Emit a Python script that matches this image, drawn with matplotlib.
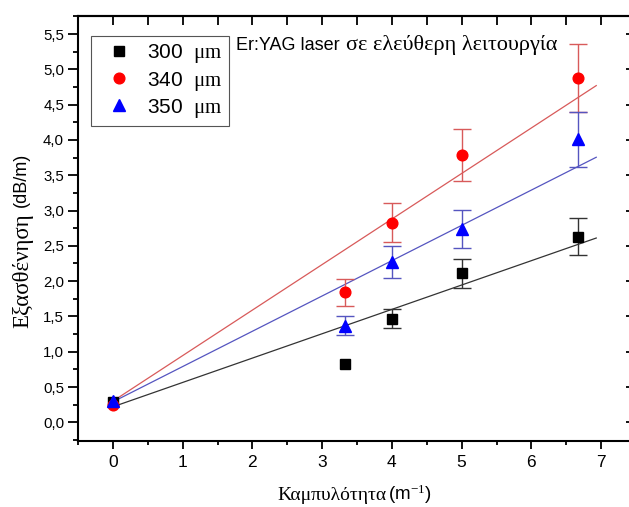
import matplotlib
matplotlib.use("Agg")
import matplotlib.pyplot as plt
from matplotlib.ticker import MultipleLocator, FuncFormatter, NullFormatter
from matplotlib.lines import Line2D

plt.rcParams['font.family'] = ['Liberation Sans', 'DejaVu Sans']
plt.rcParams['mathtext.fontset'] = 'custom'
plt.rcParams['mathtext.rm'] = 'Liberation Serif'
plt.rcParams['mathtext.it'] = 'Liberation Serif:italic'
plt.rcParams['mathtext.sf'] = 'Liberation Sans'

SERIF = ['Liberation Serif', 'DejaVu Serif']
SANS = ['Liberation Sans', 'DejaVu Sans']

# Curvature of the fibre (1/m)
curvature = [0.0, 3.33, 4.0, 5.0, 6.67]

# Attenuation (dB/m) and uncertainties for the three core diameters
loss_300 = [0.29, 0.83, 1.47, 2.11, 2.63]
err_300 = [0.0, 0.0, 0.14, 0.21, 0.26]
loss_340 = [0.25, 1.84, 2.83, 3.79, 4.88]
err_340 = [0.0, 0.19, 0.28, 0.37, 0.48]
loss_350 = [0.30, 1.37, 2.27, 2.74, 4.01]
err_350 = [0.0, 0.13, 0.23, 0.27, 0.39]

# Linear fits: (intercept, slope)
fit_300 = (0.22, 0.345)
fit_340 = (0.30, 0.645)
fit_350 = (0.29, 0.50)
fit_x = [0.0, 6.93]

series_labels = ['300', '340', '350']

W, H = 629, 507
fig = plt.figure(figsize=(W / 100, H / 100), dpi=100)
left, right, top, bottom = 78, 636, 15.7, 440.7
ax = fig.add_axes([left / W, 1 - bottom / H, (right - left) / W, (bottom - top) / H])
ax.set_xlim(-0.5, 7.5)
ax.set_ylim(-0.26, 5.76)


def px(x, y):
    """Figure-fraction position from pixel position measured from the top-left."""
    return x / W, 1 - y / H


styles = [
    (loss_300, err_300, fit_300, 's', 'black', '#333333', 6.5),
    (loss_340, err_340, fit_340, 'o', '#ff0000', '#d85a5a', 7.7),
    (loss_350, err_350, fit_350, '^', '#0000ff', '#5555c0', 9.0),
]

for y, e, (b, m), mk, mc, lc, ms in styles:
    ax.plot(fit_x, [b + m * x for x in fit_x], color=lc, lw=0.9, zorder=2)
    pts = [(xi, yi, ei) for xi, yi, ei in zip(curvature, y, e) if ei > 0]
    ax.errorbar([p[0] for p in pts], [p[1] for p in pts], yerr=[p[2] for p in pts],
                fmt='none', ecolor=lc, elinewidth=1.0, capsize=6.5, capthick=1.0,
                zorder=3)

for y, e, fit, mk, mc, lc, ms in styles:
    ax.plot(curvature, y, linestyle='none', marker=mk, markersize=ms,
            color=mc, markeredgecolor=mc, zorder=4)

comma = FuncFormatter(lambda v, p: f'{v:.1f}'.replace('.', ','))
ax.xaxis.set_major_locator(MultipleLocator(1))
ax.xaxis.set_minor_locator(MultipleLocator(0.5))
ax.yaxis.set_major_locator(MultipleLocator(0.5))
ax.yaxis.set_minor_locator(MultipleLocator(0.25))
ax.yaxis.set_major_formatter(comma)
ax.xaxis.set_major_formatter(FuncFormatter(lambda v, p: f'{v:.0f}'))

ax.tick_params(axis='both', which='both', direction='out', width=1.3, colors='black')
ax.tick_params(axis='y', which='major', length=7, pad=3, labelsize=10.8)
ax.tick_params(axis='y', which='minor', length=3.5)
ax.tick_params(axis='x', which='major', length=5.5, pad=4.5, labelsize=12.5)
ax.tick_params(axis='x', which='minor', length=3)
ax.tick_params(top=False, right=False)

for s in ax.spines.values():
    s.set_linewidth(1.5)

secx = ax.secondary_xaxis('top')
secx.xaxis.set_major_locator(MultipleLocator(0.5))
secx.xaxis.set_major_formatter(NullFormatter())
secx.tick_params(direction='in', length=6.5, width=1.3)
secx.spines['top'].set_linewidth(1.5)

secy = ax.secondary_yaxis('right')
secy.yaxis.set_major_locator(MultipleLocator(0.5))
secy.yaxis.set_major_formatter(NullFormatter())
secy.tick_params(direction='in', length=7, width=1.3)
secy.spines['right'].set_linewidth(1.5)

# Axis titles: Greek words in a serif face, units in sans
fig.text(*px(277, 500), 'Καμπυλότητα', family=SERIF, fontsize=14,
         ha='left', va='baseline')
fig.text(*px(388, 500), r'(m$^{-1}$)', family=SANS, fontsize=13.5,
         ha='left', va='baseline')
fig.text(*px(28, 328), 'Εξασθένηση', family=SERIF, fontsize=16.5,
         rotation=90, rotation_mode='anchor', ha='left', va='baseline')
fig.text(*px(26, 207), '(dB/m)', family=SANS, fontsize=13,
         rotation=90, rotation_mode='anchor', ha='left', va='baseline')

# Operating-regime note
fig.text(*px(236, 50), 'Er:YAG laser', family=SANS, fontsize=13,
         ha='left', va='baseline')
fig.text(*px(346, 50), 'σε ελεύθερη λειτουργία', family=SERIF, fontsize=16,
         ha='left', va='baseline')

handles = [Line2D([], [], linestyle='none', marker=mk, markersize=ms,
                  color=mc, markeredgecolor=mc)
           for _, _, _, mk, mc, _, ms in styles]
texts = [lab + r'  $\mathrm{μm}$' for lab in series_labels]
leg = ax.legend(handles, texts, loc='upper left', bbox_to_anchor=(0.0233, 0.952),
                borderaxespad=0, fontsize=15, frameon=True, fancybox=False,
                framealpha=1, edgecolor='#555555', handlelength=2.1,
                handletextpad=0.3, labelspacing=0.2, borderpad=0.3)
leg.get_frame().set_linewidth(0.8)

fig.savefig('out.png', dpi=100)
